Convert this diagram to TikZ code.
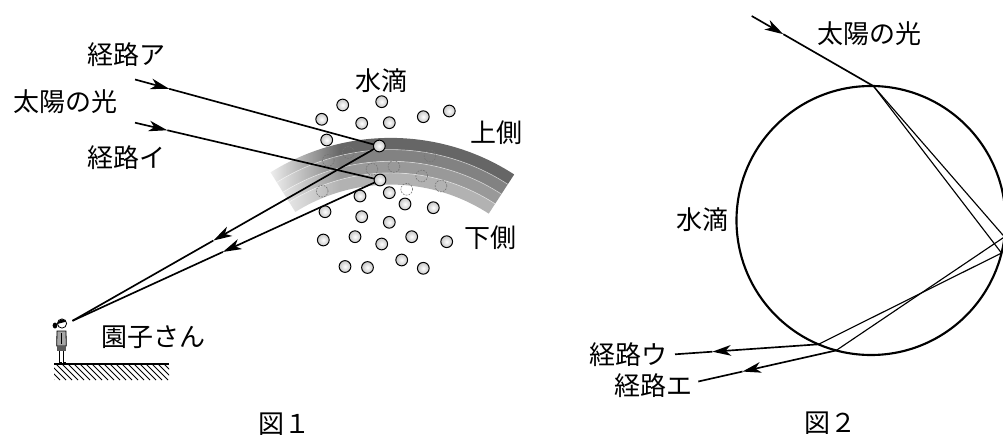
\documentclass[tikz,border=0pt]{standalone}
\usepackage{fontspec}
\newfontfamily\jp{Noto Sans CJK JP}
\usetikzlibrary{arrows.meta,fadings,calc}
\tikzfading[name=wfade, left color=transparent!0, right color=transparent!100]
\begin{document}
\begin{tikzpicture}[x=0.75pt,y=-0.75pt,
  lab/.style={font=\jp\fontsize{19.5pt}{20pt}\selectfont, inner sep=0pt},
  ray/.style={line width=1.25pt},
  thinray/.style={line width=0.85pt},
  arr/.style={line width=1.25pt,-{Stealth[length=14pt,width=8pt,inset=4pt]}},
  drop/.style={circle,draw,line width=0.75pt,minimum size=8.8pt,inner sep=0pt,outer sep=0pt,
     inner color=white,outer color=black!22},
  fdrop/.style={circle,draw=black!55,line width=0.45pt,dash pattern=on 1.3pt off 0.9pt,minimum size=8.8pt,inner sep=0pt},
]
\useasboundingbox (0,0) rectangle (1003,439);

% ---------- Figure 1: rainbow band ----------
\coordinate (bc) at (390.7,364.6);
\foreach \ri/\ro/\col in {215/226.7/black!60, 203.3/215/black!49, 191.7/203.3/black!40, 180/191.7/black!30}
  \fill[\col] ($(bc)+(-57:\ro)$) arc[start angle=-57,end angle=-122,radius=\ro]
     -- ($(bc)+(-122:\ri)$) arc[start angle=-122,end angle=-57,radius=\ri] -- cycle;
\foreach \r in {191.7,203.3,215}
  \draw[white,opacity=0.5,line width=0.5pt] ($(bc)+(-57:\r)$) arc[start angle=-57,end angle=-122,radius=\r];
\fill[white,path fading=wfade] (262,135) rectangle (340,222);

% faint drops behind the band
\foreach \x/\y [count=\i] in {348.3/152.5, 328.3/160.3, 430/156, 372/169.2, 394/166.5, 421.7/176, 441/186, 406.7/189.3, 322.2/191.2}
  \node[fdrop] (f\i) at (\x,\y) {};

% solid drops
\foreach \x/\y [count=\i] in {381.7/101.7, 342.7/105, 423.3/116.7, 449.3/111, 321.7/119.3, 361.7/123.3, 389.3/122.7, 326.7/140,
  360/196, 389.3/192.7, 405/204, 433.3/207.7, 325/211.7, 361.7/216.7, 389.3/222.3, 323.3/240, 355/236.7, 381.7/244,
  411.7/236.7, 446.7/241.7, 345/266.5, 367.5/267.5, 401.7/260, 423.3/268.3}
  \node[drop] (w\i) at (\x,\y) {};

\node[drop] (d1) at (379.3,146) {};
\node[drop] (d2) at (380,180) {};

% rays
\coordinate (a0) at (135,79.5);
\coordinate (b0) at (135,122.7);
\coordinate (eye) at (72.5,320.8);
\coordinate (a1) at ($(a0)!0.14!(d1)$);
\coordinate (b1) at ($(b0)!0.132!(d2)$);
\coordinate (t1) at ($(d1)!0.541!(eye)$);
\coordinate (t2) at ($(d2)!0.511!(eye)$);
\draw[arr] (a0) -- (a1);
\draw[ray] (a1) -- (d1);
\draw[arr] (b0) -- (b1);
\draw[ray] (b1) -- (d2);
\draw[arr] (d1) -- (t1);
\draw[ray] (t1) -- (eye);
\draw[arr] (d2) -- (t2);
\draw[ray] (t2) -- (eye);

% ground and girl
\begin{scope}
  \clip (54,364) rectangle (169,380);
  \foreach \i in {0,...,22} \draw[line width=0.6pt] (38+6*\i,364) -- ++(16,16);
\end{scope}
\draw[line width=1.1pt] (54,364) -- (169,364);
\draw[line width=1pt] (59.5,349) -- (59.5,362.5) (63.5,349) -- (63.5,362.5);
\draw[line width=0.8pt] (59.5,362.7) -- (61.8,362.7) (63.5,362.7) -- (65.8,362.7);
\filldraw[fill=black!35,line width=0.6pt] (57,331) -- (66,331) -- (66.3,346) -- (56.7,346) -- cycle;
\fill[black!65] (57,346) rectangle (66,351);
\draw[line width=0.5pt] (61.5,333) -- (61.5,344);
\filldraw[fill=white,line width=0.6pt] (62,323.5) circle[radius=4.6];
\fill[black] (57.4,324) arc[start angle=180,end angle=330,radius=4.6] -- (61,323) -- cycle;
\fill[black] (55,325.5) ellipse[x radius=2.4,y radius=3];

% labels figure 1
\node[lab] (lA)   at (126.5,55)   {経路ア};
\node[lab] (lsun) at (65,102)     {太陽の光};
\node[lab] (lI)   at (126.5,158)  {経路イ};
\node[lab] (lw)   at (381.7,81)   {水滴};
\node[lab] (lup)  at (496.7,132.5){上側};
\node[lab] (llo)  at (490,237.5)  {下側};
\node[lab] (lso)  at (153.7,337.5){園子さん};
\node[lab] (cap1) at (284,424)    {図１};

% ---------- Figure 2 ----------
\node[circle,draw,line width=1.6pt,minimum size=201.75pt,inner sep=0pt,outer sep=0pt] (big) at (871,220.5) {};
\coordinate (s0) at (751.7,16);
\coordinate (P) at (big.89.5);
\coordinate (s1) at ($(s0)!0.26!(P)$);
\draw[arr] (s0) -- (s1);
\draw[ray] (s1) -- (P);
\draw[thinray] (P) -- (big.-7.5) -- (big.-105.5);
\draw[thinray] (P) -- (big.-14) -- (big.-113.5);
\coordinate (u0) at (675,354.3);
\coordinate (e0) at (698.3,381.5);
\coordinate (tu) at ($(big.-113.5)!0.74!(u0)$);
\coordinate (te) at ($(big.-105.5)!0.68!(e0)$);
\draw[arr] (big.-113.5) -- (tu);
\draw[ray] (tu) -- (u0);
\draw[arr] (big.-105.5) -- (te);
\draw[ray] (te) -- (e0);

\node[lab] (lsun2) at (869,33.3)  {太陽の光};
\node[lab] (lw2)   at (702.5,220) {水滴};
\node[lab] (lU)    at (628.3,354.7){経路ウ};
\node[lab] (lE)    at (653.3,385.8){経路エ};
\node[lab] (cap2)  at (830,423.3) {図２};
\end{tikzpicture}
\end{document}
